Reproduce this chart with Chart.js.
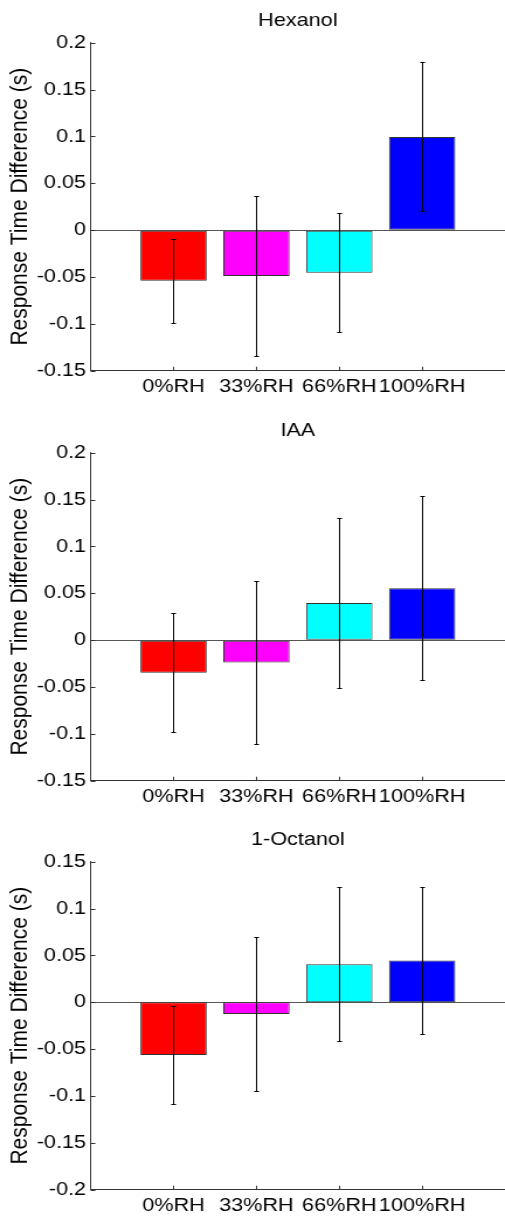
<!DOCTYPE html>
<html>
<head>
<meta charset="utf-8">
<title>Response Time Difference</title>
<style>
  body { margin: 0; background: #fff; overflow: hidden; }
  /* the plots are drawn narrow and widened afterwards, as in the printed figure */
  .panel { position: absolute; left: 0; transform: scaleX(1.169); transform-origin: 0 0; }
</style>
</head>
<body>
<div class="panel" style="top:0px"><canvas id="hexanol" width="432" height="398"></canvas></div>
<div class="panel" style="top:410px"><canvas id="iaa" width="432" height="398"></canvas></div>
<div class="panel" style="top:819px"><canvas id="octanol" width="432" height="398"></canvas></div>
<script src="https://cdn.jsdelivr.net/npm/chart.js"></script>
<script>
const labels = ['0%RH', '33%RH', '66%RH', '100%RH'];
const barColors = ['#ff0000', '#ff00ff', '#00ffff', '#0000ff'];

// mean response time difference (s) and error bar half-length
const hexanolMean = [-0.054, -0.049, -0.0455, 0.0995];
const hexanolErr = [0.045, 0.085, 0.0635, 0.0795];
const iaaMean = [-0.0347, -0.0238, 0.0397, 0.0554];
const iaaErr = [0.0633, 0.0867, 0.091, 0.098];
const octanolMean = [-0.0563, -0.0125, 0.0405, 0.0445];
const octanolErr = [0.052, 0.082, 0.082, 0.078];

const FONT = '"Liberation Sans", Arial, Helvetica, sans-serif';
Chart.defaults.font.family = FONT;
Chart.defaults.color = '#000';

const AXIS = '#333';
const PLOT_TOP = 42.7;
const PLOT_BOTTOM = 370.7;
const PLOT_LEFT = 77.6;

function drawPanel(id, title, means, errs, yMin, yMax) {
	const canvas = document.getElementById(id);

	// title centred over the axes
	const panelTitle = {
		id: 'panelTitle',
		afterDraw(chart) {
			const {ctx, chartArea} = chart;
			ctx.save();
			ctx.font = '18.5px ' + FONT;
			ctx.fillStyle = '#000';
			ctx.textAlign = 'center';
			ctx.textBaseline = 'alphabetic';
			ctx.fillText(title, (chartArea.left + chartArea.right) / 2, 26);
			ctx.restore();
		}
	};

	// tick marks pointing into the plot
	const innerTicks = {
		id: 'innerTicks',
		afterDraw(chart) {
			const {ctx, chartArea, scales} = chart;
			ctx.save();
			ctx.strokeStyle = AXIS;
			ctx.lineWidth = 1;
			ctx.beginPath();
			scales.y.ticks.forEach(t => {
				const py = Math.round(scales.y.getPixelForValue(t.value)) + 0.5;
				ctx.moveTo(chartArea.left, py);
				ctx.lineTo(chartArea.left + 4, py);
			});
			scales.x.ticks.forEach(t => {
				const px = Math.round(scales.x.getPixelForValue(t.value)) + 0.5;
				ctx.moveTo(px, chartArea.bottom);
				ctx.lineTo(px, chartArea.bottom - 4);
			});
			ctx.stroke();
			ctx.restore();
		}
	};

	const errorBars = {
		id: 'errorBars',
		afterDatasetsDraw(chart) {
			const {ctx, scales} = chart;
			const meta = chart.getDatasetMeta(0);
			ctx.save();
			ctx.strokeStyle = '#000';
			ctx.lineWidth = 1;
			ctx.beginPath();
			meta.data.forEach((bar, i) => {
				const x = Math.round(bar.x) + 0.5;
				const top = Math.round(scales.y.getPixelForValue(means[i] + errs[i])) + 0.5;
				const bot = Math.round(scales.y.getPixelForValue(means[i] - errs[i])) + 0.5;
				ctx.moveTo(x, top);
				ctx.lineTo(x, bot);
				ctx.moveTo(x - 2, top);
				ctx.lineTo(x + 2, top);
				ctx.moveTo(x - 2, bot);
				ctx.lineTo(x + 2, bot);
			});
			ctx.stroke();
			ctx.restore();
		}
	};

	new Chart(canvas, {
		type: 'bar',
		data: {
			datasets: [{
				data: means.map((v, i) => ({x: i + 1, y: v})),
				backgroundColor: barColors,
				borderColor: '#333',
				borderWidth: 1,
				borderSkipped: false,
				categoryPercentage: 0.8,
				barPercentage: 1
			}]
		},
		options: {
			responsive: false,
			animation: false,
			devicePixelRatio: 1,
			layout: { padding: { top: PLOT_TOP, left: 0, right: 0, bottom: 0 } },
			plugins: {
				legend: { display: false },
				tooltip: { enabled: false }
			},
			scales: {
				x: {
					type: 'linear',
					min: 0,
					max: 5,
					offset: false,
					grid: { drawOnChartArea: false, drawTicks: false },
					border: { color: AXIS, width: 1 },
					ticks: {
						autoSkip: false,
						maxRotation: 0,
						padding: 5,
						font: { size: 18.5 },
						callback: v => labels[v - 1]
					},
					afterBuildTicks: scale => {
						scale.ticks = labels.map((_, i) => ({value: i + 1}));
					},
					afterFit: scale => {
						scale.height = canvas.height - PLOT_BOTTOM;
					}
				},
				y: {
					min: yMin,
					max: yMax,
					grid: {
						drawTicks: false,
						color: c => (c.tick && Math.abs(c.tick.value) < 1e-9) ? '#555' : 'rgba(0,0,0,0)'
					},
					border: { color: AXIS, width: 1 },
					ticks: {
						stepSize: 0.05,
						padding: 4,
						font: { size: 18.5 },
						callback: v => String(Math.round(v * 100) / 100)
					},
					title: {
						display: true,
						text: 'Response Time Difference (s)',
						font: { size: 21 },
						padding: { top: 4.5, bottom: 0 }
					},
					afterFit: scale => {
						scale.width = PLOT_LEFT;
					}
				}
			}
		},
		plugins: [errorBars, innerTicks, panelTitle]
	});
}

drawPanel('hexanol', 'Hexanol', hexanolMean, hexanolErr, -0.15, 0.2);
drawPanel('iaa', 'IAA', iaaMean, iaaErr, -0.15, 0.2);
drawPanel('octanol', '1-Octanol', octanolMean, octanolErr, -0.2, 0.15);
</script>
</body>
</html>
